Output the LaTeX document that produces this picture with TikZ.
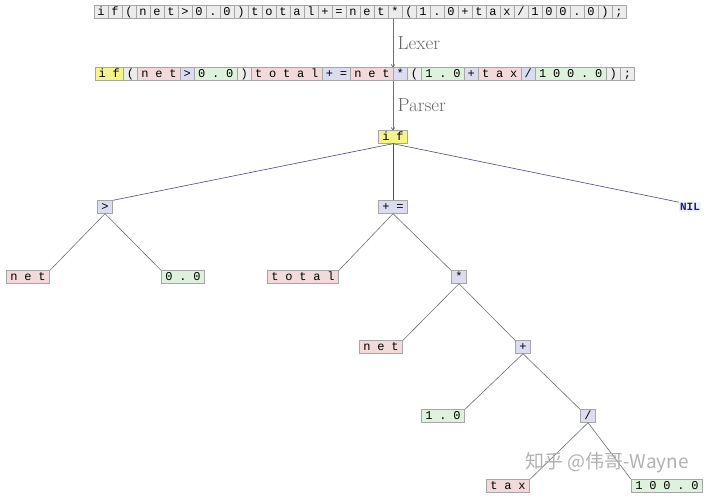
\documentclass[tikz,border=0pt]{standalone}
\usepackage{fontspec}
\usetikzlibrary{arrows.meta,positioning}
\newfontfamily\codefont{Liberation Mono}
\newfontfamily\cjkfont{Noto Sans CJK SC}
\definecolor{tokGray}{HTML}{ECECEC}
\definecolor{tokBorder}{HTML}{A6A6A6}
\definecolor{tokYellow}{HTML}{F4F48A}
\definecolor{tokPink}{HTML}{F2DADA}
\definecolor{tokGreen}{HTML}{DDF1DD}
\definecolor{tokLav}{HTML}{DCDCF0}
\definecolor{edgeBlue}{HTML}{4A4A78}
\definecolor{edgeGray}{HTML}{707070}
\definecolor{nilBlue}{HTML}{1C1C8C}
% one fixed cell per character
\makeatletter
\newcommand\spacedi[1]{\@tfor\tokch:=#1\do{\makebox[14pt]{\tokch}}}
\makeatother
\newcommand\spaced[1]{\expandafter\spacedi\expandafter{#1}}
\newcommand\tokLP{(}
\newcommand\tokRP{)}
\newcommand\tokSL{/}

\begin{document}
\begin{tikzpicture}[
    x=1pt, y=-1pt,
    tok/.style={draw=tokBorder, line width=0.9pt, inner xsep=0.5pt, inner ysep=0pt,
      text height=8.5pt, text depth=2pt, minimum height=12.5pt,
      font=\codefont\fontsize{12}{13}\selectfont},
    cell/.style={tok, fill=tokGray, minimum width=14pt, inner xsep=0pt},
    treeedge/.style={edgeGray, line width=0.6pt},
    rootedge/.style={edgeBlue, line width=0.6pt},
    phase/.style={-{To[length=3pt,width=4pt]}, edgeGray, line width=0.8pt},
    phaselabel/.style={right=1pt, font=\fontsize{19}{21}\selectfont, text=black!60},
  ]
  \useasboundingbox (0,0) rectangle (720,498);

  % Source text, one cell per character
  \foreach \c [count=\i] in {i,f,\tokLP,n,e,t,>,0,.,0,\tokRP,t,o,t,a,l,+,=,n,e,t,*,\tokLP,1,.,0,+,t,a,x,/,1,0,0,.,0,\tokRP,;}
    \node[cell] (c\i) at ({94+14*(\i-0.5)},12) {\c};

  % Token stream
  \foreach \s/\n/\col/\txt [count=\k] in {0/2/tokYellow/if, 2/1/tokGray/\tokLP, 3/3/tokPink/net,
      6/1/tokLav/>, 7/3/tokGreen/0.0, 10/1/tokGray/\tokRP, 11/5/tokPink/total, 16/2/tokLav/+=,
      18/3/tokPink/net, 21/1/tokLav/*, 22/1/tokGray/\tokLP, 23/3/tokGreen/1.0, 26/1/tokLav/+,
      27/3/tokPink/tax, 30/1/tokLav/\tokSL, 31/5/tokGreen/100.0, 36/1/tokGray/\tokRP, 37/1/tokGray/;}
    \node[tok, fill=\col, minimum width={\n*14.2pt}, inner xsep=0pt] (t\k)
      at ({95+14.2*(\s+\n/2)},74) {\spaced{\txt}};

  % Syntax tree
  \node[tok, fill=tokYellow] (if) at (393,137) {\spaced{if}};
  \node[tok, fill=tokLav] (gt) at (105,207) {\spaced{>}};
  \node[tok, fill=tokLav] (pluseq) at (393,207) {\spaced{+=}};
  \node[font=\codefont\bfseries\fontsize{11}{12}\selectfont, text=nilBlue, fill=tokLav!40,
        inner sep=1pt] (nil) at (690,207) {NIL};
  \node[tok, fill=tokPink] (netA) at (28,277) {\spaced{net}};
  \node[tok, fill=tokGreen] (zero) at (183,277) {\spaced{0.0}};
  \node[tok, fill=tokPink] (total) at (303,277) {\spaced{total}};
  \node[tok, fill=tokLav] (mul) at (459,277) {\spaced{*}};
  \node[tok, fill=tokPink] (netB) at (381,347) {\spaced{net}};
  \node[tok, fill=tokLav] (plus) at (523,347) {\spaced{+}};
  \node[tok, fill=tokGreen] (one) at (443,416) {\spaced{1.0}};
  \node[tok, fill=tokLav] (div) at (588,416) {\spaced{/}};
  \node[tok, fill=tokPink] (tax) at (508,486) {\spaced{tax}};
  \node[tok, fill=tokGreen] (hundred) at (667,486) {\spaced{100.0}};

  % Lexer and parser steps
  \draw[phase] (if.north |- c22.south) -- (if.north |- t10.north)
    node[midway, phaselabel] {Lexer};
  \draw[phase] (if.north |- t10.south) -- (if.north)
    node[midway, phaselabel] {Parser};

  % Edges
  \draw[rootedge] (if.south) -- (gt.north east);
  \draw[rootedge] (if.south) -- (pluseq.north);
  \draw[rootedge] (if.south) -- (nil.north west);
  \draw[treeedge] (gt.south) -- (netA.north east);
  \draw[treeedge] (gt.south) -- (zero.north west);
  \draw[treeedge] (pluseq.south) -- (total.north east);
  \draw[treeedge] (pluseq.south) -- (mul.north west);
  \draw[treeedge] (mul.south) -- (netB.north east);
  \draw[treeedge] (mul.south) -- (plus.north west);
  \draw[treeedge] (plus.south) -- (one.north east);
  \draw[treeedge] (plus.south) -- (div.north west);
  \draw[treeedge] (div.south) -- (tax.north east);
  \draw[treeedge] (div.south) -- (hundred.north west);

  % Watermark
  \node[font=\cjkfont\fontsize{19}{22}\selectfont, text=black!30] (mark) at (607,463)
    {知乎 @伟哥-Wayne};
\end{tikzpicture}
\end{document}
